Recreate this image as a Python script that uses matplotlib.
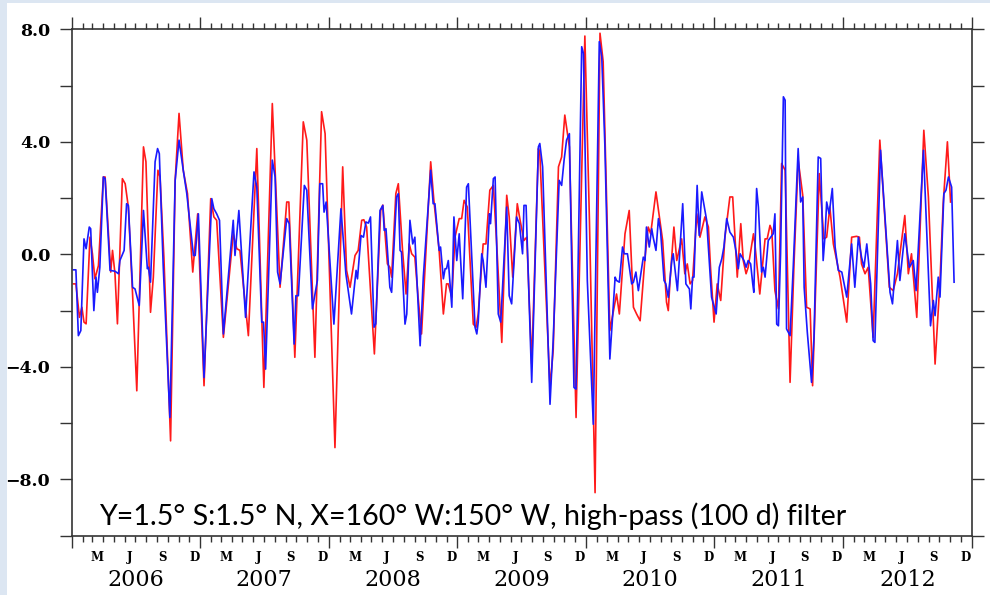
import numpy as np
import matplotlib
matplotlib.use('Agg')
import matplotlib.pyplot as plt
import matplotlib.dates as mdates
from matplotlib.patches import Rectangle
from matplotlib.ticker import NullFormatter

# dias desde 2006-01-01 y valores
blue_days = [
    5, 12, 19, 26, 35, 41, 50, 54, 63, 69,
    73, 80, 90, 95, 109, 123, 133, 137, 149, 156,
    161, 173, 180, 192, 204, 215, 218, 224, 237, 244,
    249, 260, 279, 294, 305, 317, 327, 346, 351, 360,
    376, 398, 404, 412, 420, 431, 459, 464, 475, 494,
    518, 526, 540, 545, 551, 570, 578, 585, 592, 611,
    618, 632, 637, 644, 661, 668, 684, 698, 705, 713,
    717, 723, 745, 765, 779, 795, 808, 812, 822, 829,
    836, 843, 849, 859, 864, 876, 884, 888, 893, 904,
    909, 923, 928, 933, 937, 947, 952, 961, 969, 975,
    990, 999, 1020, 1027, 1032, 1044, 1048, 1056, 1061, 1065,
    1070, 1080, 1086, 1094, 1101, 1111, 1122, 1127, 1146, 1151,
    1155, 1165, 1169, 1177, 1187, 1190, 1198, 1203, 1207, 1212,
    1219, 1236, 1243, 1250, 1264, 1272, 1281, 1285, 1291, 1307,
    1326, 1330, 1338, 1359, 1368, 1385, 1392, 1399, 1406, 1414,
    1427, 1433, 1449, 1454, 1465, 1482, 1499, 1506, 1515, 1529,
    1544, 1548, 1556, 1565, 1570, 1579, 1591, 1596, 1603, 1610,
    1624, 1629, 1633, 1641, 1648, 1652, 1660, 1667, 1673, 1683,
    1688, 1695, 1705, 1709, 1721, 1736, 1745, 1755, 1759, 1764,
    1768, 1777, 1783, 1790, 1804, 1818, 1831, 1840, 1847, 1853,
    1861, 1870, 1880, 1887, 1894, 1899, 1910, 1916, 1922, 1929,
    1935, 1938, 1946, 1951, 1960, 1965, 1970, 1979, 1986, 1993,
    1998, 2003, 2008, 2014, 2022, 2027, 2031, 2041, 2050, 2064,
    2071, 2077, 2081, 2090, 2102, 2109, 2121, 2128, 2135, 2140,
    2145, 2152, 2161, 2169, 2178, 2188, 2202, 2216, 2225, 2235,
    2244, 2251, 2259, 2270, 2277, 2282, 2298, 2325, 2332, 2346,
    2353, 2367, 2380, 2391, 2399, 2420, 2440, 2448, 2453, 2462,
    2467, 2478, 2484, 2491, 2500, 2507,
]
blue_vals = [
    -0.55, -0.55, -2.89, -2.71, 0.55, 0.20, 0.97, 0.91, -2.0, -0.81,
    -1.35, -0.46, 2.75, 2.69, -0.57, -0.60, -0.69, -0.22, 0.14, 1.80,
    1.74, -1.17, -1.23, -1.82, 1.56, -0.51, -0.46, -0.99, 3.29, 3.76,
    3.58, -0.40, -5.80, 2.63, 4.06, 2.99, 2.16, -0.04, -0.04, 1.44,
    -4.38, 1.98, 1.62, 1.44, 1.21, -2.83, 1.21, -0.04, 1.56, -2.24,
    2.93, 2.39, -2.41, -2.41, -4.08, 3.35, 2.75, -0.63, -1.05, 1.27,
    1.09, -3.19, -1.47, -1.47, 2.45, 2.28, -1.94, -0.93, 2.51, 2.51,
    1.50, 1.86, -2.48, 1.62, -0.69, -2.12, -0.57, -0.87, 0.67, 0.61,
    1.15, 1.11, 1.33, -2.59, -2.47, 1.56, 1.74, 0.85, 0.91, -1.17,
    -1.35, 2.04, 2.16, 0.14, 0.08, -2.48, -2.12, 1.21, 0.37, 0.61,
    -3.25, -0.81, 2.99, 1.80, 1.80, 0.14, 0.26, -0.87, -0.51, -0.51,
    -0.22, -1.88, 1.33, -0.22, 0.73, -1.58, 2.39, 2.51, -2.59, -2.83,
    -2.41, 0.02, -0.22, -1.17, 1.44, 1.09, 2.69, 2.75, 0.61, -2.12,
    -2.41, 1.68, -1.47, -1.76, 1.33, 1.09, 0.02, 1.74, 1.74, -4.55,
    3.82, 3.94, 3.11, -5.33, -3.07, 2.63, 2.45, 3.35, 4.06, 4.29,
    -4.73, -4.79, 7.38, 7.14, -0.93, -6.04, 7.56, 7.03, 3.82, -3.72,
    -0.81, -0.93, -0.99, 0.26, 0.02, 0.02, -1.05, -0.99, -0.63, -1.29,
    -0.10, -0.22, 0.97, 0.26, 0.91, 0.61, 0.14, 1.27, 0.85, -0.93,
    -1.05, -1.53, -0.22, 0.02, -1.29, 1.80, -1.05, -1.23, -1.94, -0.81,
    -0.81, 2.45, 0.67, 2.22, 1.21, -1.52, -2.12, -0.46, -0.16, 0.26,
    1.27, 0.79, 0.61, 0.14, -0.51, 0.02, -0.22, -0.46, -0.22, -0.34,
    -1.05, -1.35, 2.34, 1.68, -0.63, -0.46, -0.81, 0.49, 0.61, 0.73,
    1.44, -2.48, -2.54, 0.02, 5.60, 5.48, -2.65, -2.89, -0.46, 3.76,
    1.86, 2.04, -1.17, -2.77, -4.55, -2.95, 3.46, 3.41, -0.22, 0.61,
    1.86, 1.44, 2.34, 0.26, -0.57, -0.63, -1.52, 0.37, -1.17, 0.61,
    -0.10, -0.46, 0.37, -1.05, -3.07, -3.13, 3.70, -1.35, -1.76, 0.49,
    -0.93, 0.73, -0.46, -0.22, -1.29, 3.70, -2.54, -1.64, -2.18, -0.81,
    -1.52, 2.16, 2.28, 2.75, 2.39, -0.99,
]

red_days = [
    5, 12, 22, 29, 35, 41, 52, 59, 66, 76,
    90, 95, 111, 116, 123, 130, 144, 152, 161, 173,
    185, 204, 211, 224, 232, 245, 251, 262, 281, 294,
    305, 317, 329, 344, 358, 376, 395, 404, 412, 431,
    459, 469, 478, 502, 526, 546, 570, 592, 611, 617,
    634, 658, 668, 691, 710, 720, 748, 770, 781, 791,
    805, 814, 824, 830, 838, 860, 878, 884, 897, 904,
    909, 921, 928, 940, 950, 959, 966, 975, 985, 994,
    1020, 1029, 1044, 1056, 1065, 1070, 1080, 1089, 1101, 1108,
    1115, 1124, 1141, 1149, 1155, 1169, 1177, 1188, 1198, 1207,
    1222, 1236, 1243, 1253, 1266, 1274, 1285, 1293, 1307, 1326,
    1330, 1359, 1368, 1383, 1392, 1401, 1414, 1433, 1458, 1471,
    1487, 1501, 1510, 1529, 1548, 1556, 1572, 1584, 1596, 1605,
    1615, 1629, 1638, 1645, 1660, 1679, 1690, 1695, 1700, 1711,
    1719, 1733, 1742, 1749, 1757, 1764, 1776, 1785, 1799, 1809,
    1815, 1825, 1834, 1844, 1856, 1870, 1878, 1891, 1901, 1908,
    1916, 1922, 1937, 1941, 1955, 1970, 1976, 1984, 1989, 1998,
    2008, 2017, 2027, 2041, 2052, 2064, 2077, 2088, 2098, 2105,
    2124, 2137, 2145, 2154, 2164, 2183, 2202, 2216, 2230, 2238,
    2244, 2254, 2263, 2277, 2296, 2323, 2334, 2346, 2367, 2377,
    2386, 2401, 2421, 2434, 2453, 2467, 2476, 2488, 2497,
]
red_vals = [
    -1.05, -1.05, -2.24, -1.88, -2.41, -2.47, 0.61, 0.02, -0.87, -0.40,
    2.75, 2.75, -0.63, 0.14, -0.69, -2.47, 2.69, 2.51, 1.68, -1.41,
    -4.85, 3.82, 3.29, -2.06, -0.81, 2.99, 2.75, -0.10, -6.63, 2.63,
    5.01, 2.99, 2.16, -0.63, 1.44, -4.67, 1.98, 1.33, 1.21, -2.95,
    0.73, 0.20, 0.14, -2.89, 3.76, -4.73, 5.36, -1.17, 1.86, 1.86,
    -3.66, 4.71, 4.06, -3.66, 5.07, 4.29, -6.87, 3.11, -0.57, -1.17,
    -0.04, 0.14, 1.21, 1.23, 0.97, -3.54, 1.56, 1.75, -0.34, -0.46,
    -0.81, 2.16, 2.51, 0.14, -1.41, 0.37, 0.02, -0.10, -1.64, -2.83,
    3.29, 1.92, 0.14, -2.12, -1.05, -1.05, -1.52, 0.61, 1.27, 1.27,
    1.92, 1.68, -2.48, -2.59, -2.12, 0.37, 0.37, 2.28, 2.45, 0.49,
    -3.13, 2.10, 1.33, -0.81, 1.80, 1.21, 0.49, 0.61, -3.90, 3.76,
    3.58, -4.73, -3.42, 3.11, 3.46, 4.95, 3.82, -5.80, 7.76, 1.21,
    -8.47, 7.86, 6.85, -2.71, -1.41, -2.12, 0.73, 1.56, -1.88, -2.12,
    -2.36, -0.10, 0.97, 0.73, 2.22, 0.49, -1.70, -2.00, -0.93, 0.97,
    -0.22, 0.55, -0.69, -0.34, -1.05, -0.93, 1.44, 0.61, 1.33, 0.97,
    -0.46, -2.41, -1.05, -1.64, 0.61, 2.04, 2.04, -0.81, 1.09, -0.22,
    -0.69, -0.46, 0.73, 0.37, -1.41, 0.55, 0.55, 1.03, 0.85, -1.29,
    -1.94, 3.23, 2.99, -4.55, -0.40, 3.35, 2.10, -1.88, -1.94, -4.67,
    2.87, 0.55, 0.61, 1.68, 0.37, -0.81, -2.41, 0.61, 0.64, 0.61,
    -0.34, -0.69, -0.46, -2.95, 4.06, -1.17, -1.29, -0.69, 1.38, -0.69,
    0.02, -2.24, 4.41, 2.04, -3.90, -0.93, 1.80, 4.00, 1.86,
]

years = [2006, 2007, 2008, 2009, 2010, 2011, 2012]
month_labels = [(3, 'M'), (6, 'J'), (9, 'S'), (12, 'D')]
y_ticks = [-10, -8, -6, -4, -2, 0, 2, 4, 6, 8]
titulo = 'Y=1.5° S:1.5° N, X=160° W:150° W, high-pass (100 d) filter'

start = np.datetime64('2006-01-01')
blue_dates = start + np.array(blue_days).astype('timedelta64[D]')
red_dates = start + np.array(red_days).astype('timedelta64[D]')

fig = plt.figure(figsize=(9.9, 5.95), dpi=100, facecolor='#dce6f2')
fig.add_artist(Rectangle((7 / 990, 0), 1 - 7 / 990, 1 - 3 / 595,
                         transform=fig.transFigure, facecolor='white',
                         edgecolor='none', zorder=0))
ax = fig.add_axes([0.0724, 0.0997, 0.9091, 0.8511])

ax.plot(red_dates, red_vals, color='#ff1a1a', lw=1.2)
ax.plot(blue_dates, blue_vals, color='#1a1aff', lw=1.2)

ax.set_xlim(np.datetime64('2006-01-01'), np.datetime64('2013-01-01'))
ax.set_ylim(-10, 8)

# ejes estilo NCL
for sp in ax.spines.values():
    sp.set_color('#333333')
    sp.set_linewidth(1.2)

ax.xaxis.set_major_locator(mdates.YearLocator())
ax.xaxis.set_minor_locator(mdates.MonthLocator())
ax.xaxis.set_major_formatter(NullFormatter())
ax.tick_params(axis='x', which='both', top=True, bottom=True,
               direction='out', color='#333333', width=1)
ax.tick_params(axis='x', which='major', length=8.5)
ax.tick_params(axis='x', which='minor', length=4.2)

ax.set_yticks(y_ticks)
ax.set_yticklabels(['' if v % 4 else ('%.1f' % v).replace('-', '\u2212')
                    for v in y_ticks])
ax.tick_params(axis='y', left=True, right=True, direction='out',
               length=8.5, width=1, color='#333333', pad=7)
for lab in ax.get_yticklabels():
    lab.set_family('DejaVu Serif')
    lab.set_fontweight('bold')
    lab.set_fontsize(12.5)

# etiquetas de meses y años
for yr in years:
    for m, letra in month_labels:
        xm = mdates.date2num(np.datetime64('%d-%02d-15' % (yr, m)))
        ax.annotate(letra, xy=(xm, 0), xycoords=('data', 'axes fraction'),
                    xytext=(0, -16), textcoords='offset points',
                    ha='center', va='center', fontsize=8.5,
                    fontweight='bold', family='DejaVu Serif')
    xy_ = mdates.date2num(np.datetime64('%d-07-02' % yr))
    ax.annotate(str(yr), xy=(xy_, 0), xycoords=('data', 'axes fraction'),
                xytext=(0, -32), textcoords='offset points',
                ha='center', va='center', fontsize=16, family='DejaVu Serif')

ax.text(0.0303, 0.021, titulo, transform=ax.transAxes, fontsize=20.6,
        family='Lato', va='baseline', ha='left', color='black')

fig.savefig('out.png', dpi=100, facecolor=fig.get_facecolor())
